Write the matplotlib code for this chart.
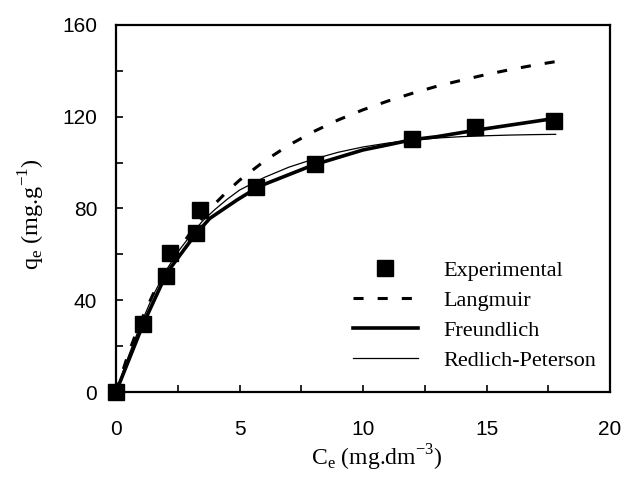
import numpy as np
import matplotlib
matplotlib.use("Agg")
import matplotlib.pyplot as plt
from matplotlib.ticker import MultipleLocator

# experimental points (Ce in mg/dm3, qe in mg/g)
exp_c = [0, 1.1, 2.02, 2.19, 3.24, 3.4, 5.67, 8.06, 11.97, 14.53, 17.74]
exp_q = [0, 29.6, 50.6, 60.5, 69.5, 79.3, 89.2, 99.4, 110.2, 115.6, 118.3]

# model curves
lang_c = [0, 0.5, 1, 1.5, 2, 2.5, 3, 3.5, 4, 4.5, 5, 6, 7, 8, 9, 10, 11, 12, 13, 14, 15, 16, 17, 17.8]
lang_q = [0, 16.8, 30.8, 42.6, 52.7, 61.5, 69.2, 76.0, 82.0, 87.4, 92.3, 100.6, 107.6, 113.5,
          118.6, 123.0, 126.8, 130.2, 133.3, 135.9, 138.4, 140.6, 142.6, 144.0]

freu_c = [0, 1.1, 2.0, 2.2, 3.2, 3.8, 4.9, 5.7, 6, 8, 10, 11, 12, 13, 14.5, 17.8]
freu_q = [0, 29.6, 50.6, 54.0, 68.5, 75.7, 83.7, 89.0, 90.5, 99.0, 105.5, 107.7, 110.0, 111.3, 114.0, 119.3]

rp_c = [0, 0.5, 1, 1.5, 2, 2.5, 3, 3.5, 4, 4.5, 5, 6, 7, 8, 9, 10, 11, 12, 13, 14, 15, 16, 17, 17.8]
rp_q = [0, 15.5, 29.5, 42.0, 52.5, 61.0, 68.0, 74.5, 79.5, 84.0, 88.0, 93.5, 98.0, 101.5,
        104.5, 106.8, 108.5, 109.8, 110.7, 111.3, 111.7, 112.0, 112.2, 112.3]

serif = "Liberation Serif"
sans = "Liberation Sans"

fig = plt.figure(figsize=(6.25, 4.79), dpi=100)
ax = fig.add_axes([0.1856, 0.1816, 0.7904, 0.7664])

ax.plot(exp_c, exp_q, linestyle="none", marker="s", markersize=12, color="black",
        label="Experimental", zorder=5, clip_on=False)
ax.plot(lang_c, lang_q, color="black", linewidth=2.2, dashes=(3.3, 4.6), label="Langmuir")
ax.plot(freu_c, freu_q, color="black", linewidth=2.6, label="Freundlich")
ax.plot(rp_c, rp_q, color="black", linewidth=0.9, label="Redlich-Peterson")

ax.set_xlim(0, 20)
ax.set_ylim(0, 160)
ax.xaxis.set_major_locator(MultipleLocator(5))
ax.xaxis.set_minor_locator(MultipleLocator(2.5))
ax.yaxis.set_major_locator(MultipleLocator(40))
ax.yaxis.set_minor_locator(MultipleLocator(20))
ax.tick_params(which="both", direction="in", length=5, width=1.2)
ax.tick_params(axis="x", pad=20)
ax.tick_params(axis="y", pad=13.5)
for lab in ax.get_xticklabels() + ax.get_yticklabels():
    lab.set_fontfamily(sans)
    lab.set_fontsize(15)
for sp in ax.spines.values():
    sp.set_linewidth(1.6)

ax.set_xlabel("C$_\\mathregular{e}$ (mg.dm$^\\mathregular{-3}$)", fontfamily=serif, fontsize=17, labelpad=3)
ax.set_ylabel("q$_\\mathregular{e}$ (mg.g$^\\mathregular{-1}$)", fontfamily=serif, fontsize=17.5, labelpad=11)
ax.xaxis.label.set_x(0.528)
ax.yaxis.label.set_y(0.486)

leg = ax.legend(loc="upper left", bbox_to_anchor=(0.48, 0.358), frameon=False,
                prop={"family": serif, "size": 16}, handlelength=2.9, handletextpad=1.15,
                labelspacing=0.42, borderpad=0, borderaxespad=0, numpoints=1)

fig.savefig("out.png", dpi=100)
